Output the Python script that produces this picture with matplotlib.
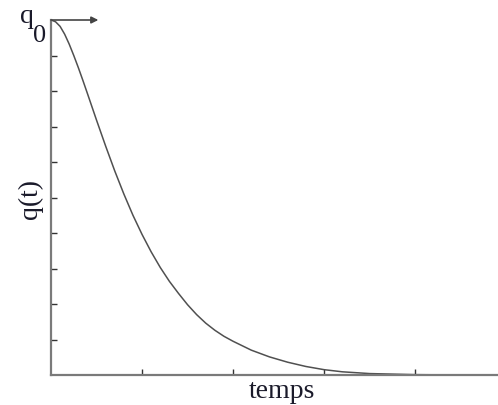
import matplotlib
matplotlib.use("Agg")
import matplotlib.pyplot as plt

# values (t in tick units, q as fraction of q0)
t_vals = [0.0, 0.05, 0.10, 0.15, 0.20, 0.25, 0.30, 0.35, 0.40, 0.50, 0.60,
          0.70, 0.80, 0.90, 1.00, 1.10, 1.20, 1.30, 1.40, 1.50, 1.60, 1.70,
          1.80, 1.90, 2.00, 2.20, 2.40, 2.60, 2.80, 3.00, 3.20, 3.50, 4.00,
          4.50, 4.91]
q_vals = [1.000, 0.995, 0.982, 0.960, 0.932, 0.900, 0.866, 0.830, 0.793,
          0.718, 0.645, 0.575, 0.510, 0.450, 0.396, 0.347, 0.303, 0.264,
          0.230, 0.198, 0.170, 0.146, 0.126, 0.109, 0.095, 0.070, 0.051,
          0.036, 0.024, 0.015, 0.009, 0.004, 0.001, 0.0, 0.0]
x_ticks = [1, 2, 3, 4]
y_ticks = [0.1, 0.2, 0.3, 0.4, 0.5, 0.6, 0.7, 0.8, 0.9]
x_label = "temps"
y_label = "q(t)"

plt.rcParams['font.family'] = ['Liberation Serif', 'DejaVu Serif']

W, H = 498, 405
fig = plt.figure(figsize=(W / 100, H / 100), dpi=100)
ax = fig.add_axes([51 / W, 30 / H, (W - 51) / W, 355 / H])
ax.plot(t_vals, q_vals, color='#505050', lw=1.1, clip_on=False,
        solid_joinstyle='round')
ax.set_xlim(0, 4.91)
ax.set_ylim(0, 1)
for s in ['top', 'right']:
    ax.spines[s].set_visible(False)
for s in ['left', 'bottom']:
    ax.spines[s].set_color('#7a7a7a')
    ax.spines[s].set_linewidth(1.6)
ax.set_xticks(x_ticks)
ax.set_yticks(y_ticks)
ax.tick_params(direction='in', length=4, width=1, color='#333333',
               labelbottom=False, labelleft=False)

ax.annotate('', xy=(0.52, 1.0), xytext=(0.0, 1.0),
            arrowprops=dict(arrowstyle='-|>', color='#444444', lw=1.2,
                            mutation_scale=10, shrinkA=0, shrinkB=0),
            annotation_clip=False)

fig.text(282 / W, 1 - 391 / H, x_label, fontsize=20, ha='center', va='center',
         color='#1a1a2a')
fig.text(30 / W, 1 - 199 / H, y_label, fontsize=20, ha='center', va='center',
         rotation=90, color='#1a1a2a')
fig.text(20 / W, 1 - 23 / H, "q", fontsize=20, ha='left', va='baseline',
         color='#1a1a2a')
fig.text(33 / W, 1 - 42 / H, "0", fontsize=19, ha='left', va='baseline',
         color='#1a1a2a')

fig.savefig("out.png", dpi=100)
